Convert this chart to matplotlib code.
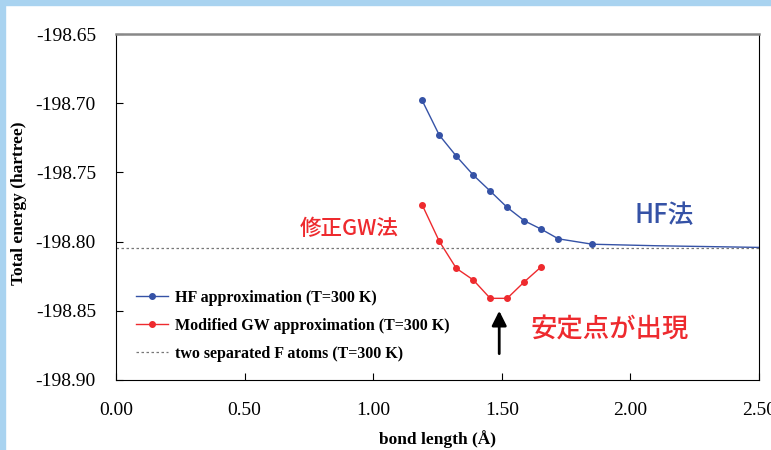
import numpy as np
import matplotlib.pyplot as plt
from matplotlib.patches import Rectangle

# bond length (angstrom) and total energy (hartree)
r_hf = [1.190, 1.257, 1.323, 1.389, 1.455, 1.521, 1.588, 1.654, 1.720, 1.852]
e_hf = [-198.6979, -198.7231, -198.7382, -198.7519, -198.7635,
        -198.7753, -198.7850, -198.7911, -198.7980, -198.8019]
# HF tail beyond last marker
r_hf_tail = [1.852, 2.10, 2.60]
e_hf_tail = [-198.8019, -198.8030, -198.8045]

r_gw = [1.190, 1.257, 1.323, 1.389, 1.455, 1.521, 1.588, 1.654]
e_gw = [-198.7733, -198.7998, -198.8193, -198.8277,
        -198.8410, -198.8410, -198.8290, -198.8181]

e_atoms = -198.8045

blue = '#3552a6'
red = '#ee2a2e'

fig = plt.figure(figsize=(7.71, 4.5), dpi=100)
ax = fig.add_axes([0.1505, 0.1556, 0.8339, 0.7688])

# light blue frame
fig.patches.append(Rectangle((0, 0.988), 1, 0.012, transform=fig.transFigure,
                             color='#a9d3f0', zorder=0))
fig.patches.append(Rectangle((0, 0), 0.0065, 1, transform=fig.transFigure,
                             color='#a9d3f0', zorder=0))

ax.plot(r_hf, e_hf, '-o', color=blue, lw=1, ms=4, label='HF approximation (T=300 K)')
ax.plot(r_hf_tail, e_hf_tail, '-', color=blue, lw=1)
ax.plot(r_gw, e_gw, '-o', color=red, lw=1, ms=4, label='Modified GW approximation (T=300 K)')
ax.axhline(e_atoms, color='#777777', lw=0.9, ls=(0, (2, 2)),
           label='two separated F atoms (T=300 K)')

ax.set_xlim(0, 2.5)
ax.set_ylim(-198.90, -198.65)
ax.set_xticks(np.arange(0, 2.51, 0.5))
ax.set_yticks(np.arange(-198.90, -198.649, 0.05))
ax.set_xticklabels([f'{v:.2f}' for v in np.arange(0, 2.51, 0.5)])
ax.set_yticklabels([f'{v:.2f}' for v in np.arange(-198.90, -198.649, 0.05)])
ax.tick_params(direction='in', length=5, labelsize=14)
ax.tick_params(axis='y', pad=14.5)
ax.tick_params(axis='x', pad=16)
for lab in ax.get_xticklabels() + ax.get_yticklabels():
    lab.set_fontfamily('Liberation Serif')
ax.spines['top'].set_color('#888888')
ax.spines['top'].set_linewidth(1.8)

ax.set_xlabel('bond length (Å)', fontfamily='Liberation Serif', fontweight='bold',
              fontsize=12.5)
ax.set_ylabel('Total energy (hartree)', fontfamily='Liberation Serif', fontweight='bold',
              fontsize=12.5)
ax.xaxis.set_label_coords(0.50, -0.145)
ax.yaxis.set_label_coords(-0.138, 0.51)

leg = ax.legend(loc='lower left', bbox_to_anchor=(0.003, 0.0), frameon=False,
                prop={'family': 'Liberation Serif', 'weight': 'bold', 'size': 11.5},
                handlelength=2.0, handletextpad=0.45, labelspacing=0.75,
                borderaxespad=0.75)

jp = ['Noto Sans CJK JP', 'DejaVu Sans']
ax.text(2.13, -198.7808, 'HF法', color=blue, fontsize=18.5, family=jp,
        ha='center', va='center', fontweight='medium')
ax.text(0.908, -198.7909, '修正GW法', color=red, fontsize=15.5, family=jp,
        ha='center', va='center', fontweight='medium')
ax.text(1.918, -198.8639, '安定点が出現', color=red, fontsize=19, family=jp,
        ha='center', va='center', fontweight='medium')
ax.annotate('', xy=(1.49, -198.848), xytext=(1.49, -198.883),
            arrowprops=dict(arrowstyle='-|>', color='black', lw=2, mutation_scale=22))

fig.savefig('out.png', dpi=100)
